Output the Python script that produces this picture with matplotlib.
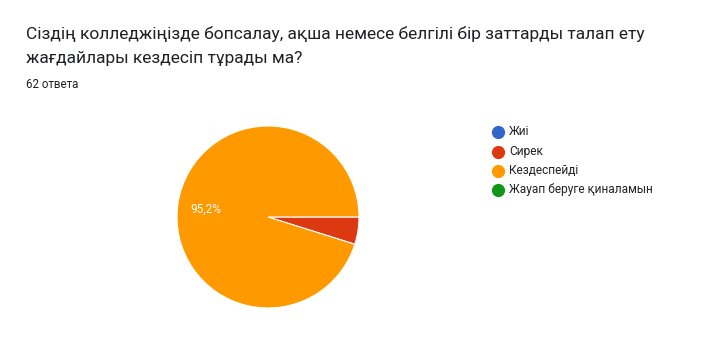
import matplotlib.pyplot as plt
from matplotlib.lines import Line2D

plt.rcParams['font.family'] = ['Roboto', 'DejaVu Sans']

title = 'Сіздің колледжіңізде бопсалау, ақша немесе белгілі бір заттарды талап ету\nжағдайлары кездесіп тұрады ма?'
subtitle = '62 ответа'
labels = ['Жиі', 'Сирек', 'Кездеспейді', 'Жауап беруге қиналамын']
counts = [0, 3, 59, 0]
colors = ['#3366cc', '#dc3912', '#ff9900', '#109618']

W, H = 720, 339
fig = plt.figure(figsize=(W / 100, H / 100), dpi=100)
fig.patch.set_facecolor('white')

fig.text(26 / W, 1 - 46 / H, title, fontsize=12.5, color='#202124',
         va='center', ha='left', linespacing=1.72)
fig.text(26 / W, 1 - 85 / H, subtitle, fontsize=8.3, color='#202124', va='center')

# pie, center about (268, 217), radius 91 px
ax = fig.add_axes([177 / W, 31 / H, 182 / W, 182 / H])
vals = [c for c in counts if c > 0]
cols = [colors[i] for i, c in enumerate(counts) if c > 0]
wedges, _ = ax.pie(vals, colors=cols, startangle=0, counterclock=False,
                   wedgeprops=dict(edgecolor='white', linewidth=0.8))
ax.set_xlim(-1, 1)
ax.set_ylim(-1, 1)
ax.set_aspect('equal')
ax.axis('off')

total = sum(counts)
pct = counts[2] / total * 100
fig.text(206 / W, 1 - 209 / H, f'{pct:.1f}%'.replace('.', ','), fontsize=8.5,
         color='white', ha='center', va='center')

# legend
ys = [132, 152, 171, 190]
for lab, col, y in zip(labels, colors, ys):
    fig.add_artist(Line2D([498 / W], [1 - y / H], marker='o', markersize=8.5,
                          color=col, linestyle='none'))
    fig.text(509 / W, 1 - y / H, lab, fontsize=8.6, color='#222222', va='center')

fig.savefig('out.png', dpi=100)
